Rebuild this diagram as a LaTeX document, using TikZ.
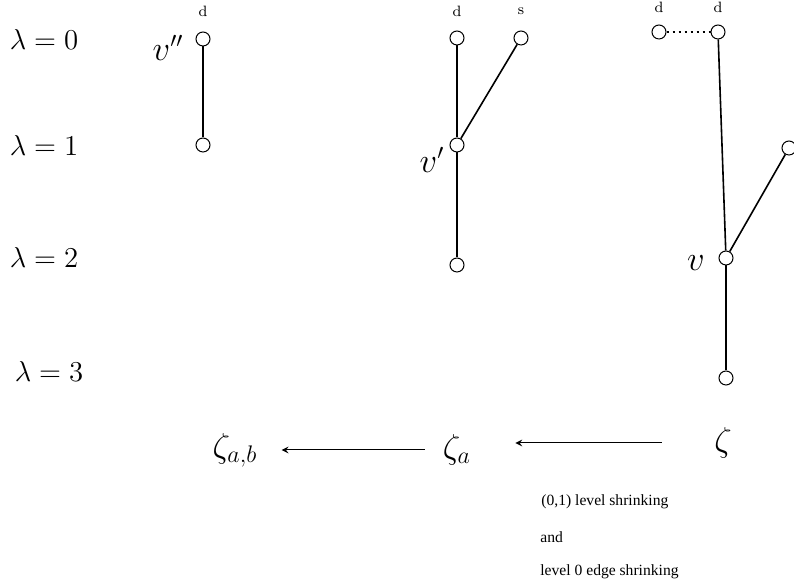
\documentclass[tikz,border=0pt]{standalone}
\usepackage{fontspec}
\newfontfamily\notefont{Liberation Serif}
\usetikzlibrary{positioning}
\tikzset{
  >=stealth,
  % --- nodes
  vtx/.style  = {circle, draw=black, fill=white, line width=0.5pt,
                 minimum size=7pt, inner sep=0pt},
  tag/.style  = {font=\fontsize{7.5}{9}\selectfont, inner sep=0pt},
  big/.style  = {font=\fontsize{14}{17}\selectfont, inner sep=0pt},
  vlbl/.style = {font=\fontsize{16}{19}\selectfont, inner sep=0pt},
  map/.style  = {font=\fontsize{18}{22}\selectfont, inner sep=0pt},
  note/.style = {font=\notefont\fontsize{7.8}{9}\selectfont, anchor=west, inner sep=0pt},
  % --- edges
  e/.style    = {line width=0.8pt},
  edot/.style = {line width=1pt, dotted},
  arr/.style  = {-stealth, line width=0.5pt},
}
\begin{document}
\begin{tikzpicture}[x=0.5pt,y=-0.5pt]
  \useasboundingbox (0,0) rectangle (794,581);
  % levels
  \node[big] (l0) at (44,40)  {$\lambda=0$};
  \node[big] (l1) at (44,146) {$\lambda=1$};
  \node[big] (l2) at (44,258) {$\lambda=2$};
  \node[big] (l3) at (49,372) {$\lambda=3$};
  % zeta_{a,b}
  \node[vtx] (p0) at (203,39)  {};
  \node[vtx] (p1) at (203,145) {};
  \node[tag] at (203,11) {d};
  \node[vlbl] (pv) at (168,48) {$v''$};
  \draw[e] (p0) -- (p1);
  % zeta_a
  \node[vtx] (q0) at (457,38)  {};
  \node[vtx] (qs) at (521,38)  {};
  \node[vtx] (q1) at (457,145) {};
  \node[vtx] (q2) at (457,265) {};
  \node[tag] at (457,11) {d};
  \node[tag] at (521,11) {s};
  \node[vlbl] (qv) at (432,160) {$v'$};
  \draw[e] (q0) -- (q1); \draw[e] (qs) -- (q1); \draw[e] (q1) -- (q2);
  % zeta
  \node[vtx] (r0) at (659,32)  {};
  \node[vtx] (r1) at (718,32)  {};
  \node[vtx] (rs) at (789,148) {};
  \node[vtx] (r2) at (726,258) {};
  \node[vtx] (r3) at (726,378) {};
  \node[tag] at (659,7) {d};
  \node[tag] at (718,7) {d};
  \node[vlbl] (rv) at (696,263) {$v$};
  \draw[edot] (r0) -- (r1);
  \draw[e] (r1) -- (r2); \draw[e] (rs) -- (r2); \draw[e] (r2) -- (r3);
  % maps
  \node[map] (zab) at (235,450) {$\zeta_{a,b}$};
  \node[map] (za)  at (457,450) {$\zeta_a$};
  \node[map] (z)   at (723,443) {$\zeta$};
  \draw[arr, shorten <=26pt, shorten >=22pt] (z.west) -- (z.west -| za.east);
  \draw[arr, shorten <=9pt, shorten >=12pt] (za.west) -- (za.west -| zab.east);
  \node[note] (n1) at (541,502) {(0,1) level shrinking};
  \node[note] (n2) at (540,537) {and};
  \node[note] (n3) at (540,572) {level 0 edge shrinking};
\end{tikzpicture}
\end{document}
